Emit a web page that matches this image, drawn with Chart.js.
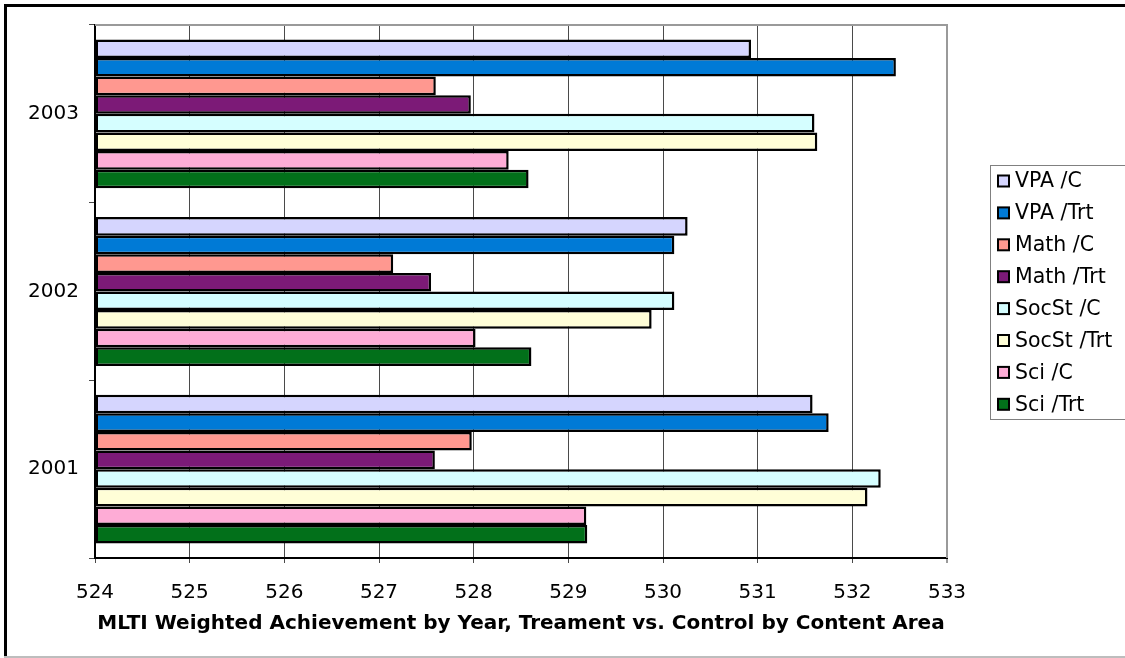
<!DOCTYPE html>
<html>
<head>
<meta charset="utf-8">
<script src="https://cdn.jsdelivr.net/npm/chart.js@4/dist/chart.umd.min.js"></script>
<style>
html,body{margin:0;padding:0;background:#fff;}
#wrap{position:relative;width:1125px;height:658px;}
</style>
</head>
<body>
<div id="wrap"><canvas id="c" width="1125" height="658"></canvas></div>
<script>
const years = ['2003', '2002', '2001'];
const seriesNames = ['VPA /C', 'VPA /Trt', 'Math /C', 'Math /Trt', 'SocSt /C', 'SocSt /Trt', 'Sci /C', 'Sci /Trt'];
const vpaC    = [530.93, 530.26, 531.58];
const vpaTrt  = [532.46, 530.12, 531.75];
const mathC   = [527.60, 527.15, 527.98];
const mathTrt = [527.97, 527.55, 527.59];
const socC    = [531.60, 530.12, 532.30];
const socTrt  = [531.63, 529.88, 532.16];
const sciC    = [528.37, 528.02, 529.19];
const sciTrt  = [528.58, 528.61, 529.20];
const xMin = 524, xMax = 533;
const axisTitle = 'MLTI Weighted Achievement by Year, Treament vs. Control by Content Area';

const colors = ['#D5D5FE', '#007AD6', '#FF9890', '#7C1A77', '#D5FEFF', '#FFFED7', '#FEACD6', '#02701A'];
const values = [vpaC, vpaTrt, mathC, mathTrt, socC, socTrt, sciC, sciTrt];

const FONT = "'DejaVu Sans', Verdana, sans-serif";

const datasets = values.map((v, i) => ({
  label: seriesNames[i],
  data: v,
  backgroundColor: colors[i],
  borderColor: '#000',
  borderWidth: 2.5,
  borderSkipped: false,
  base: xMin,
  categoryPercentage: 0.838,
  barPercentage: 1.0
}));

const framePlugin = {
  id: 'frame',
  beforeDatasetsDraw(chart) {
    const {ctx, chartArea: a} = chart;
    ctx.save();
    ctx.strokeStyle = '#9a9a9a';
    ctx.lineWidth = 2;
    ctx.beginPath();
    ctx.moveTo(a.left, a.top);
    ctx.lineTo(a.right, a.top);
    ctx.lineTo(a.right, a.bottom);
    ctx.stroke();
    ctx.restore();
  },
  afterDraw(chart) {
    const ctx = chart.ctx;
    ctx.save();
    // outer frame
    ctx.fillStyle = '#000';
    ctx.fillRect(4, 4, 1125 - 4, 3);
    ctx.fillRect(4, 4, 3, 653);
    ctx.fillStyle = '#bdbdbd';
    ctx.fillRect(4, 656, 1125 - 4, 2);
    // legend
    const lx = 990, ly = 165, lb = 419;
    ctx.strokeStyle = '#808080';
    ctx.lineWidth = 1;
    ctx.strokeRect(lx + 0.5, ly + 0.5, 1130 - lx, lb - ly);
    ctx.font = '20.5px ' + FONT;
    ctx.textBaseline = 'middle';
    ctx.textAlign = 'left';
    chart.data.datasets.forEach((ds, i) => {
      const cy = 181 + i * 31.9;
      ctx.fillStyle = '#000';
      ctx.fillRect(997, cy - 6.5, 13, 13);
      ctx.fillStyle = ds.backgroundColor;
      ctx.fillRect(999, cy - 4.5, 9, 9);
      ctx.fillStyle = '#000';
      ctx.fillText(ds.label, 1015, cy + 1);
    });
    ctx.restore();
  }
};

new Chart(document.getElementById('c'), {
  type: 'bar',
  data: { labels: years, datasets },
  options: {
    indexAxis: 'y',
    responsive: false,
    animation: false,
    layout: { padding: { left: 0, top: 25, right: 178, bottom: 0 } },
    plugins: { legend: { display: false }, tooltip: { enabled: false } },
    scales: {
      x: {
        min: xMin, max: xMax,
        afterFit(s) { s.height = 100; },
        ticks: { stepSize: 1, color: '#000', font: { family: FONT, size: 20 }, padding: 18 },
        grid: {
          color: (c) => (c.tick && c.tick.value === xMax) ? '#9a9a9a' : '#4a4a4a',
          lineWidth: (c) => (c.tick && c.tick.value === xMax) ? 2 : 1,
          tickLength: 5
        },
        border: { display: true, color: '#000', width: 2 },
        title: {
          display: true, text: axisTitle, color: '#000',
          font: { family: FONT, size: 20, weight: 'bold' },
          padding: { top: 0, bottom: 22 }
        }
      },
      y: {
        afterFit(s) { s.width = 95; },
        ticks: { color: '#000', font: { family: FONT, size: 20 }, padding: 10 },
        grid: { drawOnChartArea: false, drawTicks: true, tickLength: 6, color: '#4a4a4a', offset: true },
        border: { display: true, color: '#000', width: 2 }
      }
    }
  },
  plugins: [framePlugin]
});
</script>
</body>
</html>
